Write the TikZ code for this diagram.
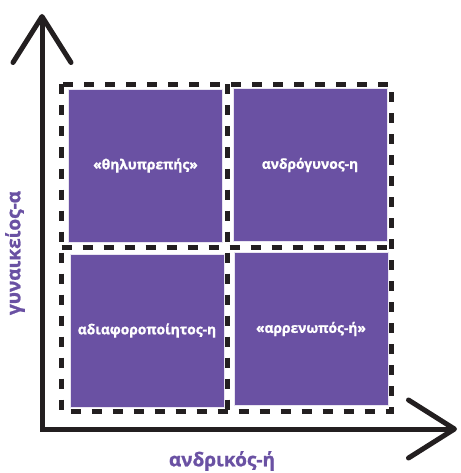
\documentclass[tikz,border=0pt]{standalone}
\usepackage{fontspec}
\setmainfont{Open Sans}[BoldFont={Open Sans Bold}, BoldFeatures={FakeBold=1.2}]
\usetikzlibrary{arrows.meta,positioning}
\definecolor{quadPurple}{RGB}{106,81,163}
\definecolor{inkBlack}{RGB}{35,31,32}

\begin{document}
\begin{tikzpicture}[
    x=1pt, y=-1pt,
    quad/.style={rectangle, fill=quadPurple, draw=quadPurple!15, line width=0.8pt,
                 minimum width=154pt, minimum height=153pt, text=white,
                 font=\fontsize{13.8}{16}\selectfont\bfseries},
    frame/.style={draw=inkBlack, line width=5pt, dash pattern=on 10pt off 11pt},
    axis/.style={draw=inkBlack, line width=5pt,
                 {Straight Barb[length=46pt,width=58pt,round]}-{Straight Barb[length=46pt,width=58pt,round]}},
    axisLabel/.style={text=quadPurple, font=\fontsize{19}{22}\selectfont\bfseries}
]
\useasboundingbox (0,0) rectangle (460,473);

\node[quad] (femSq) at (145.5,165.5) {«θηλυπρεπής»};
\node[quad] (androSq) at (310,165) {ανδρόγυνος-η};
\node[quad] (indiffSq) at (147,330.5) {αδιαφοροποίητος-η};
\node[quad] (mascSq) at (311,329) {«αρρενωπός-ή»};

\draw[frame] (61.5,84.5) rectangle (391,411.5);
\draw[frame] (227,84.5) -- (227,411.5);
\draw[frame] (61.5,247.5) -- (391,247.5);

\coordinate (origin) at (42,429);
\coordinate (yTip) at (42,14);
\coordinate (xTip) at (457,429);
\draw[axis] (yTip) -- (origin) -- (xTip);

\node[axisLabel, rotate=90] (femAxisLabel) at (15,253) {γυναικείος-α};
\node[axisLabel] (mascAxisLabel) at (222,461) {ανδρικός-ή};

\end{tikzpicture}
\end{document}
